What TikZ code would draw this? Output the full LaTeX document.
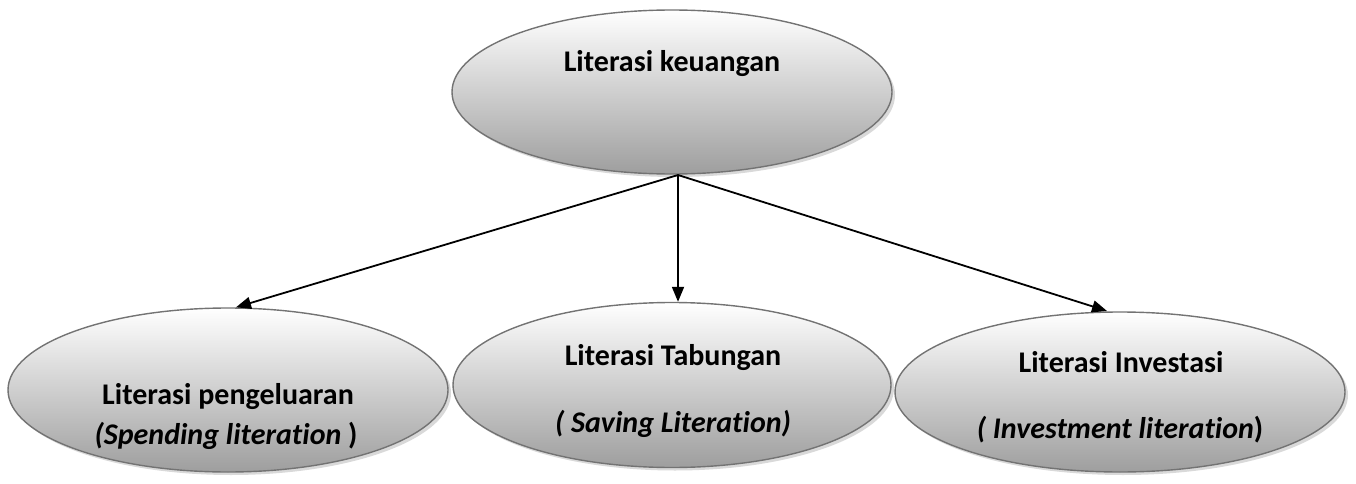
\documentclass[tikz,border=0pt]{standalone}
\usepackage{fontspec}
\setmainfont{Carlito}[Ligatures={NoCommon,NoContextual}]
\usetikzlibrary{arrows.meta,shapes.geometric,shadows}
\begin{document}
\begin{tikzpicture}[x=1pt,y=-1pt,
  oval/.style={ellipse, draw=black!55, line width=1.4pt, inner sep=0pt,
    top color=white, bottom color=black!38,
    drop shadow={shadow xshift=3pt, shadow yshift=-3pt, fill=black!25, opacity=0.6}},
  lbl/.style={font=\fontsize{30}{36}\selectfont\bfseries, inner sep=0pt, anchor=base},
  conn/.style={line width=1.8pt, -{Triangle[length=15pt,width=12pt]}}]
\useasboundingbox (0,0) rectangle (1356,484);
\node[oval, minimum width=440pt, minimum height=164pt] (top) at (672,92) {};
\node[oval, minimum width=440pt, minimum height=164pt] (l) at (228,390) {};
\node[oval, minimum width=438pt, minimum height=165pt] (m) at (672,385) {};
\node[oval, minimum width=450pt, minimum height=160pt] (r) at (1120,392) {};
\node[lbl] (ttop) at (672,72) {Literasi keuangan};
\node[lbl] (tl1) at (228,404) {Literasi pengeluaran};
\node[lbl] (tl2) at (226,444) {\itshape(Spending literation \upshape)};
\node[lbl] (tm1) at (673,365) {Literasi Tabungan};
\node[lbl] (tm2) at (673,432) {\itshape( Saving Literation)};
\node[lbl] (tr1) at (1121,372) {Literasi Investasi};
\node[lbl] (tr2) at (1120,438) {\itshape( Investment literation\upshape)};
\coordinate (hub) at (678,175);
\draw[conn] (hub) -- (l.north -| 236,0);
\draw[conn] (hub) -- (hub |- m.north);
\draw[conn] (hub) -- (1107,311);
\end{tikzpicture}
\end{document}
